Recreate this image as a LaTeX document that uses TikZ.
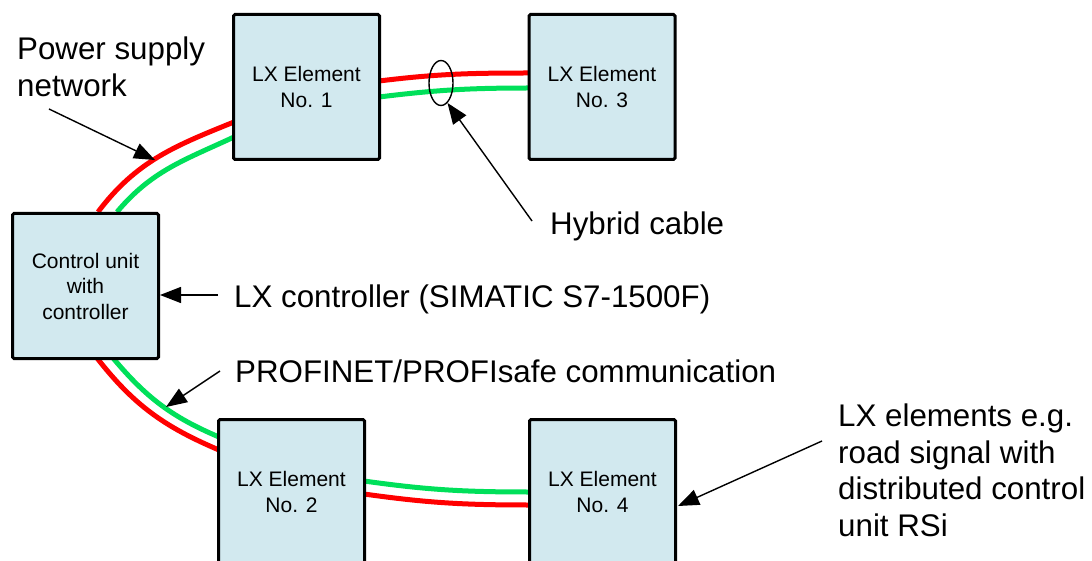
\documentclass[tikz,border=0pt]{standalone}
\usepackage{fontspec}
\setmainfont{Liberation Sans}
\usetikzlibrary{arrows.meta,shapes.geometric,calc,backgrounds}
\definecolor{boxfill}{RGB}{210,233,239}
\definecolor{cred}{RGB}{255,0,0}
\definecolor{cgreen}{RGB}{0,224,90}
\tikzset{
  lxbox/.style={draw=black, line width=3pt, fill=boxfill, rounded corners=1.5pt,
    minimum width=146pt, minimum height=145pt, inner sep=0pt, align=center,
    font=\fontsize{21}{25.5}\selectfont},
  lbl/.style={inner sep=0pt, align=left, font=\fontsize{31.3}{36.5}\selectfont},
  redcable/.style={draw=cred, line width=5pt},
  greencable/.style={draw=cgreen, line width=5pt},
  pointer/.style={draw=black, line width=1.4pt, -{Triangle[length=21pt,width=16pt]}},
}
\begin{document}
\begin{tikzpicture}[x=1pt,y=1pt]
\useasboundingbox (0,0) rectangle (1092,-561);
\clip (0,0) rectangle (1092,-561);

% boxes
\node[lxbox] (b1) at (306.5,-87) {LX Element\\No. 1};
\node[lxbox] (b3) at (602,-87) {LX Element\\No. 3};
\node[lxbox] (ctrl) at (85.5,-286) {Control unit\\with\\controller};
\node[lxbox] (b2) at (291.5,-492) {LX Element\\No. 2};
\node[lxbox] (b4) at (602.5,-492) {LX Element\\No. 4};

% cable end points
\coordinate (rTLa) at (98,-212);   \coordinate (rTLb) at (234,-122);
\coordinate (gTLa) at (117,-212);  \coordinate (gTLb) at (234,-137);
\coordinate (rTRa) at (379,-81);   \coordinate (rTRb) at (529,-73);
\coordinate (gTRa) at (379,-97);   \coordinate (gTRb) at (529,-88);
\coordinate (rBLa) at (97,-358);   \coordinate (rBLb) at (219,-450);
\coordinate (gBLa) at (113,-358);  \coordinate (gBLb) at (219,-437);
\coordinate (gBRa) at (364,-481);  \coordinate (gBRb) at (530,-492);
\coordinate (rBRa) at (364,-494);  \coordinate (rBRb) at (530,-505);

\begin{scope}[on background layer]
  \draw[redcable]   (rTLa) to[out=53,in=202] (rTLb);
  \draw[greencable] (gTLa) to[out=50,in=205] (gTLb);
  \draw[redcable]   (rTRa) to[out=7,in=180] (rTRb);
  \draw[greencable] (gTRa) to[out=7,in=180] (gTRb);
  \draw[redcable]   (rBLa) to[out=-52,in=157] (rBLb);
  \draw[greencable] (gBLa) to[out=-50,in=157] (gBLb);
  \draw[greencable] (gBRa) to[out=-8,in=180] (gBRb);
  \draw[redcable]   (rBRa) to[out=-8,in=180] (rBRb);
\end{scope}

% hybrid cable marker
\node[draw=black, line width=1.4pt, ellipse, inner sep=0pt,
      minimum width=24pt, minimum height=45pt] (ring) at (441,-83) {};

% labels
\node[lbl, anchor=north west] (power) at (17,-37) {Power supply\\network};
\node[lbl, anchor=base west] (hyb) at (550,-235) {Hybrid cable};
\node[lbl, anchor=base west] (lxc) at (234,-307) {LX controller (SIMATIC S7-1500F)};
\node[lbl, anchor=base west] (pn) at (235,-382) {PROFINET/PROFIsafe communication};
\node[lbl, anchor=north west] (lxe) at (838,-404) {LX elements e.g.\\road signal with\\distributed control\\unit RSi};

% pointer arrows
\coordinate (pA) at (49,-109);   \coordinate (pAt) at (155,-160);
\coordinate (hA) at (532,-221);
\coordinate (cA) at (218,-295);
\coordinate (nA) at (220,-371);  \coordinate (nAt) at (166,-407);
\coordinate (eA) at (822,-441);  \coordinate (eAt) at (678,-506);

\draw[pointer] (pA) -- (pAt);
\draw[pointer] (hA) -- (ring.-72);
\draw[pointer] (cA) -- (cA -| ctrl.east);
\draw[pointer] (nA) -- (nAt);
\draw[pointer] (eA) -- (eAt);
\end{tikzpicture}
\end{document}
